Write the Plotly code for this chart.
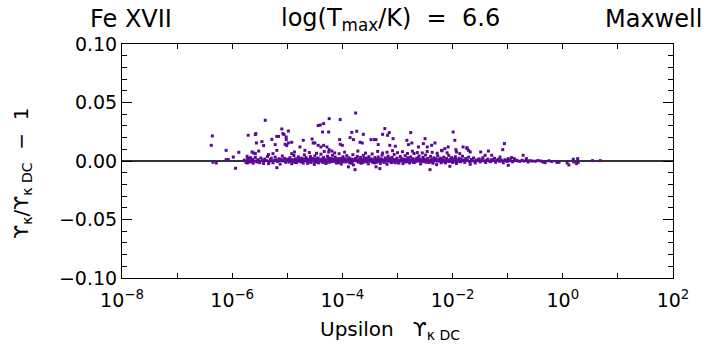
import plotly.graph_objects as go

# log10(Upsilon_kappa_DC) and fractional deviation, grouped by region of the x range
lg_sparse = [-6.36, -6.38, -6.11, -5.88, -5.98, -6.11, -6.07, -6.35, -6.29, -5.94,
             -5.71, -5.58, -5.57, -5.40, -5.46, -5.56, -5.43, -5.64, -5.61, -5.58,
             -5.52, -5.73, -5.67, -5.64, -5.60, -5.55, -5.70, -5.73,
             -5.28, -5.19, -5.16, -5.10, -5.08, -5.06, -5.02, -4.98, -4.98, -5.04,
             -5.01, -5.22, -5.19, -5.34, -5.26, -5.19, -5.34]
dv_sparse = [0.0214, 0.0134, 0.0091, 0.0074, 0.0034, 0.0012, 0.0012, -0.0011, -0.0017, -0.0062,
             0.0220, 0.0226, 0.0234, 0.0348, 0.0166, 0.0154, 0.0132, 0.0077, 0.0068, 0.0063,
             0.0085, 0.0040, 0.0029, 0.0012, 0.0000, -0.0009, -0.0010, -0.0017,
             0.0185, 0.0210, 0.0210, 0.0274, 0.0234, 0.0226, 0.0205, 0.0256, 0.0154, 0.0143,
             0.0132, 0.0140, 0.0091, 0.0055, 0.0063, -0.0057, -0.0022]

lg_upper = [-5.02, -4.92, -4.87, -4.92, -4.77, -4.68, -4.71, -4.55, -4.53, -4.50,
            -4.44, -4.40, -4.34, -4.24, -4.36, -4.25, -4.04, -3.76, -3.83, -3.74,
            -3.62, -3.48, -3.42, -4.05, -4.04, -4.00, -3.86, -3.80, -3.68, -3.64,
            -4.44, -4.39, -4.34, -4.28, -4.24, -4.19, -4.25, -3.77, -3.89,
            -3.23, -3.15, -3.18, -3.27, -3.08, -3.39, -3.35, -3.14, -3.04, -2.76,
            -2.83, -2.74, -2.80, -2.50, -2.53, -2.46, -2.62, -2.38, -2.32, -1.99,
            -1.96, -2.14, -2.08, -2.20, -3.39, -3.32, -2.41, -2.05]
dv_upper = [0.0183, 0.0160, 0.0077, 0.0063, 0.0120, 0.0091, 0.0177, 0.0188, 0.0154, 0.0154,
            0.0303, 0.0308, 0.0320, 0.0362, 0.0248, 0.0248, 0.0354, 0.0410, 0.0245, 0.0254,
            0.0228, 0.0183, 0.0183, 0.0183, 0.0143, 0.0134, 0.0200, 0.0183, 0.0160, 0.0154,
            0.0134, 0.0120, 0.0134, 0.0120, 0.0097, 0.0085, 0.0077, -0.0074, -0.0050,
            0.0277, 0.0243, 0.0220, 0.0228, 0.0191, 0.0183, 0.0140, 0.0134, 0.0126, 0.0243,
            0.0177, 0.0154, 0.0140, 0.0191, 0.0149, 0.0120, 0.0120, 0.0134, 0.0154, 0.0248,
            0.0177, 0.0106, 0.0120, 0.0091, -0.0050, -0.0065, -0.0074, -0.0045]

lg_mid = [-3.36, -3.27, -3.19, -3.09, -3.00, -2.91, -2.82, -2.73, -2.64, -2.55,
          -2.46, -2.37, -2.28, -2.19, -2.10, -4.60, -4.47, -4.33, -4.14, -3.96,
          -3.72, -3.58]
dv_mid = [0.0082, 0.0068, 0.0075, 0.0088, 0.0071, 0.0079, 0.0065, 0.0084, 0.0072, 0.0069,
          0.0081, 0.0074, 0.0066, 0.0087, 0.0070, 0.0072, 0.0066, 0.0081, 0.0069, 0.0076,
          0.0085, 0.0067]

lg_tail = [-1.94, -1.93, -1.87, -1.74, -1.71, -1.68, -1.81, -1.74, -1.49, -1.35,
           -1.41, -1.29, -1.06, -1.09, -1.14, -0.99, -0.93, -0.88, -0.84, -0.72,
           -0.66, -0.63, -0.56, -0.36, -0.99, -1.68,
           -0.32, -0.11, -0.07, 0.08, 0.11, 0.19, 0.20, 0.27, 0.28, 0.25, 0.54, 0.68]
dv_tail = [0.0097, 0.0077, 0.0063, 0.0106, 0.0091, 0.0077, 0.0120, 0.0114, 0.0077, 0.0085,
           0.0049, 0.0049, 0.0149, 0.0097, 0.0034, 0.0020, 0.0029, 0.0020, 0.0006, 0.0049,
           0.0020, -0.0009, 0.0000, -0.0009, -0.0037, -0.0028,
           -0.0014, -0.0011, -0.0011, -0.0017, -0.0034, 0.0015, -0.0009, 0.0020, -0.0011,
           -0.0022, 0.0003, 0.0003]

lg_band_a = [-5.78, -5.75, -5.72, -5.69, -5.66, -5.63, -5.62, -5.58, -5.55, -5.53,
             -5.50, -5.48, -5.45, -5.43, -5.41, -5.38, -5.36, -5.33, -5.31, -5.29,
             -5.26, -5.24, -5.22, -5.20, -5.18, -5.15, -5.13, -5.11, -5.09, -5.07,
             -5.05, -5.03, -5.01]
dv_band_a = [0.0008, -0.0012, 0.0021, 0.0004, -0.0006, 0.0015, -0.0019, 0.0031, 0.0002, 0.0011,
             -0.0014, 0.0026, 0.0006, -0.0021, 0.0017, 0.0003, 0.0039, -0.0008, 0.0012, 0.0024,
             -0.0015, 0.0005, 0.0033, 0.0009, -0.0004, 0.0019, -0.0026, 0.0013, 0.0042, 0.0001,
             0.0022, -0.0011, 0.0007]

lg_band_b = [-4.99, -4.97, -4.95, -4.94, -4.92, -4.90, -4.88, -4.87, -4.85, -4.83,
             -4.81, -4.80, -4.78, -4.76, -4.74, -4.73, -4.71, -4.69, -4.67, -4.66,
             -4.64, -4.62, -4.60, -4.58, -4.57, -4.55, -4.53, -4.51, -4.50, -4.48,
             -4.46, -4.44, -4.43, -4.41, -4.39, -4.37, -4.36, -4.34, -4.32, -4.30,
             -4.29, -4.27, -4.25, -4.23, -4.22, -4.20, -4.18, -4.16, -4.15, -4.13,
             -4.11, -4.09, -4.08, -4.06, -4.04, -4.02, -4.01, -3.99, -3.97, -3.95,
             -3.94, -3.92, -3.90, -3.88, -3.87, -3.85, -3.83, -3.81, -3.80, -3.78,
             -3.76, -3.74, -3.73, -3.71, -3.69, -3.67, -3.66, -3.64, -3.62, -3.60,
             -3.59, -3.57, -3.55, -3.53, -3.52, -3.50, -3.48, -3.46, -3.45, -3.43,
             -3.41,
             -4.96, -4.91, -4.86, -4.82, -4.77, -4.72, -4.68, -4.63, -4.59, -4.54,
             -4.49, -4.45, -4.40, -4.35, -4.31, -4.26, -4.21, -4.17, -4.12, -4.07,
             -4.03, -3.98, -3.93, -3.89, -3.84, -3.79, -3.75, -3.70, -3.65, -3.61,
             -3.56, -3.51, -3.47, -3.42]
dv_band_b = [0.0016, -0.0009, 0.0028, 0.0004, -0.0023, 0.0011, 0.0047, 0.0002, 0.0019, -0.0014,
             0.0008, 0.0035, 0.0013, -0.0004, 0.0024, 0.0006, -0.0018, 0.0052, 0.0010, 0.0029,
             -0.0007, 0.0015, 0.0003, 0.0038, -0.0012, 0.0021, 0.0007, -0.0029, 0.0044, 0.0014,
             0.0001, 0.0026, -0.0016, 0.0009, 0.0058, 0.0018, -0.0005, 0.0031, 0.0011, -0.0021,
             0.0004, 0.0041, 0.0016, -0.0010, 0.0023, 0.0006, 0.0049, -0.0003, 0.0014, 0.0033,
             -0.0017, 0.0008, 0.0020, 0.0062, 0.0002, -0.0026, 0.0012, 0.0036, 0.0005, 0.0019,
             -0.0008, 0.0045, 0.0010, 0.0027, -0.0014, 0.0003, 0.0016, 0.0054, -0.0033, 0.0009,
             0.0022, 0.0001, 0.0039, -0.0006, 0.0013, 0.0030, -0.0019, 0.0007, 0.0048, 0.0015,
             -0.0002, 0.0025, 0.0011, -0.0024, 0.0037, 0.0004, 0.0018, 0.0060, -0.0011, 0.0008,
             0.0029,
             0.0001, 0.0006, -0.0013, 0.0003, 0.0021, -0.0002, 0.0007, -0.0020, 0.0012, 0.0000,
             -0.0009, 0.0017, 0.0003, -0.0013, 0.0008, 0.0027, -0.0004, 0.0010, 0.0001, -0.0015,
             0.0022, 0.0009, -0.0002, 0.0014, -0.0019, 0.0006, 0.0017, -0.0010, 0.0003, 0.0021,
             -0.0007, 0.0010, 0.0002, -0.0016]

lg_band_c = [-3.39, -3.37, -3.35, -3.33, -3.31, -3.30, -3.28, -3.26, -3.24, -3.22,
             -3.21, -3.19, -3.17, -3.15, -3.13, -3.12, -3.10, -3.08, -3.06, -3.04,
             -3.03, -3.01, -2.99, -2.97, -2.95, -2.94, -2.92, -2.90, -2.88, -2.86,
             -2.85, -2.83, -2.81, -2.79, -2.78, -2.76, -2.74, -2.72, -2.70, -2.69,
             -2.67, -2.65, -2.63, -2.61, -2.60, -2.58, -2.56, -2.54, -2.52, -2.51,
             -2.49, -2.47, -2.45, -2.43, -2.42, -2.40, -2.38, -2.36, -2.34, -2.33,
             -2.31, -2.29, -2.27, -2.25, -2.24, -2.22, -2.20, -2.18, -2.16, -2.15,
             -2.13, -2.11, -2.09, -2.07, -2.06, -2.04, -2.02, -2.00, -1.98, -1.97,
             -1.95, -1.93, -1.91, -1.89, -1.88, -1.86, -1.84, -1.82,
             -3.38, -3.34, -3.29, -3.25, -3.20, -3.16, -3.11, -3.07, -3.02, -2.98,
             -2.93, -2.89, -2.84, -2.80, -2.75, -2.71, -2.66, -2.62, -2.57, -2.53,
             -2.48, -2.44, -2.39, -2.35, -2.30, -2.26, -2.21, -2.17, -2.12, -2.08,
             -2.03, -1.99, -1.94, -1.90, -1.85]
dv_band_c = [0.0012, -0.0003, 0.0034, 0.0008, -0.0020, 0.0019, 0.0050, 0.0005, -0.0012, 0.0026,
             0.0010, -0.0028, 0.0041, 0.0002, 0.0017, -0.0007, 0.0031, 0.0009, 0.0056, -0.0015,
             0.0013, 0.0024, 0.0001, -0.0009, 0.0038, 0.0011, 0.0020, -0.0022, 0.0006, 0.0046,
             0.0015, -0.0004, 0.0028, 0.0008, -0.0017, 0.0035, 0.0003, 0.0019, 0.0064, -0.0010,
             0.0011, 0.0025, -0.0001, 0.0043, 0.0014, -0.0025, 0.0007, 0.0032, 0.0018, -0.0006,
             0.0051, 0.0009, 0.0022, -0.0013, 0.0004, 0.0039, 0.0012, -0.0019, 0.0027, 0.0006,
             0.0016, -0.0031, 0.0044, 0.0002, 0.0013, 0.0024, -0.0008, 0.0010, 0.0033, 0.0001,
             -0.0016, 0.0021, 0.0007, 0.0048, -0.0004, 0.0015, 0.0029, -0.0012, 0.0005, 0.0018,
             0.0037, -0.0021, 0.0009, 0.0003, 0.0024, -0.0007, 0.0012, 0.0041,
             -0.0011, 0.0002, 0.0015, -0.0005, 0.0006, 0.0022, -0.0014, 0.0003, 0.0010, -0.0018,
             0.0004, 0.0013, -0.0008, 0.0020, 0.0001, -0.0012, 0.0009, 0.0023, -0.0003, 0.0011,
             -0.0010, 0.0006, 0.0002, -0.0007, 0.0019, 0.0008, -0.0015, 0.0004, 0.0012, -0.0002,
             0.0006, -0.0009, 0.0014, 0.0000, -0.0004]

lg_band_core = [-4.93, -4.89, -4.84, -4.79, -4.75, -4.70, -4.65, -4.61, -4.56, -4.52,
                -4.47, -4.42, -4.38, -4.33, -4.28, -4.24, -4.19, -4.14, -4.10, -4.05,
                -4.00, -3.96, -3.91, -3.86, -3.82, -3.77, -3.72, -3.68, -3.63, -3.58,
                -3.54, -3.49, -3.44, -3.40, -3.36, -3.32, -3.27, -3.23, -3.18, -3.14,
                -3.09, -3.05, -3.00, -2.96, -2.91, -2.87, -2.82, -2.77, -2.73, -2.68,
                -2.64, -2.59, -2.55, -2.50, -2.46, -2.41, -2.37, -2.32, -2.28, -2.23,
                -2.19, -2.14, -2.10, -2.05, -2.01, -1.96, -1.92]
dv_band_core = [0.0005, -0.0004, 0.0012, 0.0001, -0.0008, 0.0016, 0.0004, -0.0003, 0.0009, 0.0019,
                -0.0006, 0.0007, 0.0000, 0.0013, -0.0011, 0.0005, 0.0018, -0.0001, 0.0008, 0.0003,
                -0.0007, 0.0011, 0.0002, 0.0015, -0.0005, 0.0009, 0.0000, 0.0012, -0.0013, 0.0006,
                0.0017, -0.0002, 0.0008, 0.0003, 0.0014, -0.0006, 0.0004, 0.0011, -0.0001, 0.0007,
                0.0016, -0.0009, 0.0005, 0.0002, 0.0012, -0.0005, 0.0008, 0.0000, 0.0014, -0.0007,
                0.0004, 0.0010, -0.0002, 0.0006, 0.0015, -0.0004, 0.0003, 0.0009, -0.0001, 0.0006,
                0.0011, -0.0006, 0.0002, 0.0008, 0.0000, 0.0005, -0.0003]

lg_band_d = [-1.80, -1.78, -1.76, -1.73, -1.71, -1.69, -1.66, -1.64, -1.62, -1.59,
             -1.57, -1.55, -1.52, -1.50, -1.47, -1.45, -1.43, -1.40, -1.38, -1.36,
             -1.33, -1.31, -1.29, -1.26, -1.24, -1.22, -1.19, -1.17, -1.15, -1.12,
             -1.10, -1.08, -1.05, -1.03, -1.01, -0.97, -0.95, -0.91, -0.86, -0.82,
             -0.78, -0.74, -0.70, -0.60, -0.50, -0.45, -0.40, -0.25, -0.20]
dv_band_d = [0.0008, -0.0012, 0.0021, 0.0004, 0.0033, -0.0005, 0.0013, 0.0001, 0.0026, -0.0017,
             0.0009, 0.0003, 0.0018, -0.0008, 0.0011, 0.0029, 0.0002, -0.0013, 0.0007, 0.0016,
             0.0000, -0.0006, 0.0012, 0.0004, 0.0023, -0.0010, 0.0006, 0.0015, -0.0002, 0.0009,
             0.0001, -0.0015, 0.0011, 0.0004, -0.0004, 0.0008, 0.0002, -0.0007, 0.0005, 0.0001,
             -0.0003, 0.0006, 0.0000, 0.0003, -0.0002, 0.0004, 0.0000, 0.0002, -0.0004]

x_label_exps = [-8, -6, -4, -2, 0, 2]
x_minor_exps = [-7, -5, -3, -1, 1]
y_major = [-0.10, -0.05, 0.00, 0.05, 0.10]
y_labels = ["\u22120.10", "\u22120.05", "0.00", "0.05", "0.10"]

log_ups = (lg_sparse + lg_upper + lg_mid + lg_tail + lg_band_a + lg_band_b
           + lg_band_c + lg_band_core + lg_band_d)
dev = (dv_sparse + dv_upper + dv_mid + dv_tail + dv_band_a + dv_band_b
       + dv_band_c + dv_band_core + dv_band_d)
ups = [10.0 ** v for v in log_ups]

FONT = "DejaVu Sans"
PURPLE = "#5a0a96"

fig = go.Figure()
fig.add_trace(go.Scatter(
    x=ups, y=dev, mode="markers",
    marker=dict(symbol="square", size=3, color=PURPLE, line=dict(width=0)),
    showlegend=False, hoverinfo="skip",
))

x_ticktext = ["10<sup>%s</sup>" % str(e).replace("-", "\u2212") for e in x_label_exps]

fig.update_layout(
    width=707, height=349,
    margin=dict(l=122, r=34, t=44, b=71),
    paper_bgcolor="white", plot_bgcolor="white",
    font=dict(family=FONT, size=19, color="black"),
    xaxis=dict(
        type="log", range=[-8, 2],
        tickmode="array", tickvals=[10.0 ** e for e in x_label_exps], ticktext=x_ticktext,
        ticks="inside", ticklen=5, tickwidth=1, tickcolor="black",
        minor=dict(tickmode="array", tickvals=[10.0 ** e for e in x_minor_exps],
                   ticks="inside", ticklen=5, tickwidth=1, tickcolor="black", showgrid=False),
        ticklabelstandoff=5,
        showline=True, linecolor="black", linewidth=1, mirror="allticks",
        showgrid=False, zeroline=False,
        tickfont=dict(family=FONT, size=19),
    ),
    yaxis=dict(
        range=[-0.1, 0.1],
        tickmode="array", tickvals=y_major, ticktext=y_labels,
        ticks="inside", ticklen=10, tickwidth=1, tickcolor="black",
        minor=dict(dtick=0.01, tick0=0, ticks="inside", ticklen=5, tickcolor="black", showgrid=False),
        showline=True, linecolor="black", linewidth=1, mirror="allticks",
        showgrid=False,
        zeroline=True, zerolinecolor="#333333", zerolinewidth=2,
        tickfont=dict(family=FONT, size=19),
    ),
)

# header line above the frame
title_y = 1.105
fig.add_annotation(text="Fe XVII", xref="paper", yref="paper", x=-0.0617, y=title_y,
                   xanchor="left", yanchor="middle", showarrow=False,
                   font=dict(family=FONT, size=24))
fig.add_annotation(text="log(T<sub>max</sub>/K)\u00a0 =\u00a0 6.6", xref="paper", yref="paper",
                   x=0.488, y=title_y, xanchor="center", yanchor="middle", showarrow=False,
                   font=dict(family=FONT, size=24))
fig.add_annotation(text="Maxwell", xref="paper", yref="paper", x=1.056, y=title_y,
                   xanchor="right", yanchor="middle", showarrow=False,
                   font=dict(family=FONT, size=24))

fig.add_annotation(text="\u03d2<sub>\u03ba</sub>/\u03d2<sub>\u03ba DC</sub>\u00a0\u00a0\u2212\u00a0\u00a01",
                   xref="paper", yref="paper", x=-0.1815, y=0.45, textangle=-90,
                   xanchor="center", yanchor="middle", showarrow=False,
                   font=dict(family=FONT, size=20))
fig.add_annotation(text="Upsilon\u00a0\u00a0\u00a0\u03d2<sub>\u03ba DC</sub>",
                   xref="paper", yref="paper", x=0.486, y=-0.222,
                   xanchor="center", yanchor="middle", showarrow=False,
                   font=dict(family=FONT, size=20))

fig.write_html("out.html")
